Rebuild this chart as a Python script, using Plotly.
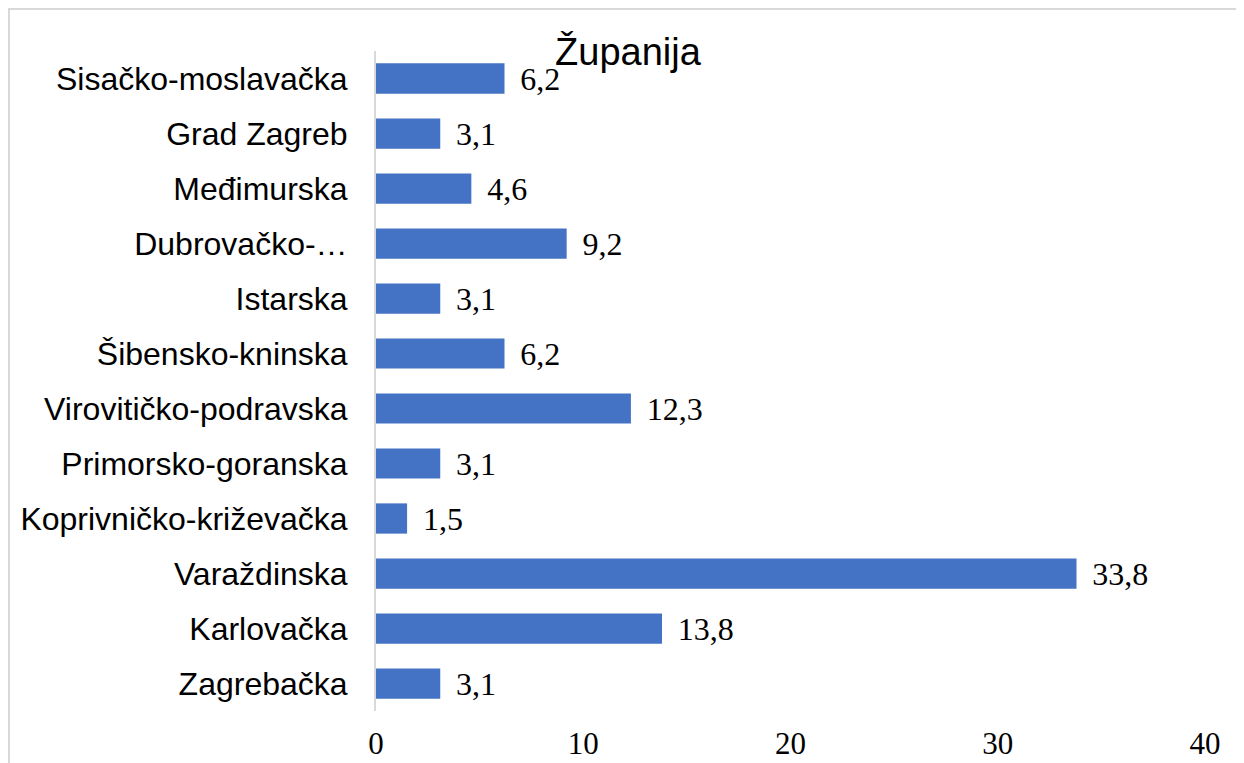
import plotly.graph_objects as go

categories = ["Sisačko-moslavačka", "Grad Zagreb", "Međimurska", "Dubrovačko-…", "Istarska",
              "Šibensko-kninska", "Virovitičko-podravska", "Primorsko-goranska",
              "Koprivničko-križevačka", "Varaždinska", "Karlovačka", "Zagrebačka"]
values = [6.2, 3.1, 4.6, 9.2, 3.1, 6.2, 12.3, 3.1, 1.5, 33.8, 13.8, 3.1]
tick_values = [0, 10, 20, 30, 40]
title_text = "Županija"

W, H = 1244, 763
# page body has an 8px margin, so figure coordinates are shifted by -8
L, R, T, B = 368, 47, 43, 60

fig = go.Figure(go.Bar(
    x=values, y=categories, orientation="h",
    marker=dict(color="#4472C4", line=dict(width=0)),
    width=0.55,
    texttemplate="\u2009\u2009%{x:.1f}", textposition="outside",
    constraintext="none",
    textfont=dict(family="Liberation Serif", size=32, color="#000000"),
    cliponaxis=False,
))

fig.update_layout(
    width=W, height=H,
    margin=dict(l=L, r=R, t=T, b=B, pad=0, autoexpand=False),
    paper_bgcolor="white", plot_bgcolor="white",
    separators=",.",
    showlegend=False,
    title=dict(text=title_text, x=620 / W, xanchor="center", y=1 - 44 / H, yanchor="middle",
               yref="container", xref="container",
               font=dict(family="Liberation Sans", size=38, color="#000000")),
    xaxis=dict(range=[0, 40], tickvals=tick_values, showgrid=False, zeroline=False,
               showline=False, ticks="", automargin=False,
               tickfont=dict(family="Liberation Serif", size=31, color="#000000"),
               ticklabelstandoff=11),
    yaxis=dict(autorange="reversed", showgrid=False, zeroline=False, automargin=False,
               showline=True, linecolor="#D9D9D9", linewidth=2, ticks="",
               tickfont=dict(family="Liberation Sans", size=32, color="#000000"),
               ticklabelstandoff=20),
    bargap=0.45,
    shapes=[dict(type="rect", xref="paper", yref="paper",
                 x0=(1 - L) / (W - L - R), x1=1.2,
                 y0=-0.2, y1=(H - B - 1) / (H - T - B),
                 line=dict(color="#D9D9D9", width=2), fillcolor="rgba(0,0,0,0)", layer="below")],
)

fig.write_html("out.html")
